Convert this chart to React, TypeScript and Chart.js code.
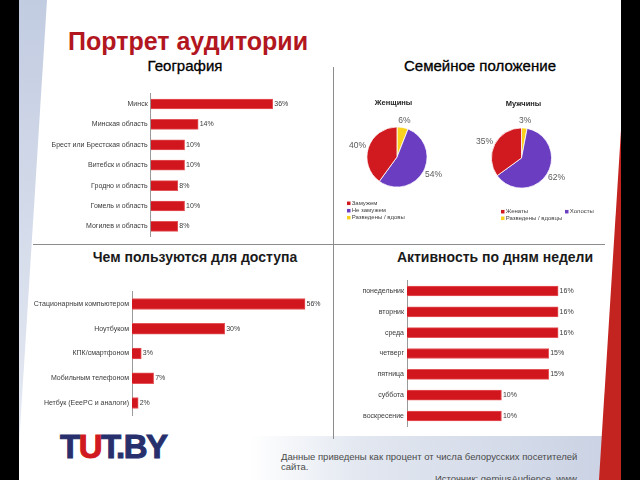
import React, { useEffect, useRef } from "react";
import { Chart, registerables } from "chart.js";
Chart.register(...registerables);

const FONT = "'Liberation Sans', Arial, sans-serif";

// ---- data ----
const geoLabels = ["Минск", "Минская область", "Брест или Брестская область", "Витебск и область", "Гродно и область", "Гомель и область", "Могилев и область"];
const geoValues = [36, 14, 10, 10, 8, 10, 8];

const womenLabels = ["Разведены / вдовы", "Не замужем", "Замужем"];
const womenValues = [6, 54, 40];
const menLabels = ["Разведены / вдовцы", "Холосты", "Женаты"];
const menValues = [3, 62, 35];

const accessLabels = ["Стационарным компьютером", "Ноутбуком", "КПК/смартфоном", "Мобильным телефоном", "Нетбук (EeePC и аналоги)"];
const accessValues = [56, 30, 3, 7, 2];

const dayLabels = ["понедельник", "вторник", "среда", "четверг", "пятница", "суббота", "воскресение"];
const dayValues = [16, 16, 16, 15, 15, 10, 10];

const RED = "#d2161e";
const RED_EDGE = "#e4555a";
const PIE_COLORS = ["#f9d21f", "#6a3dc1", "#d11a20"];

type BarProps = {
  left: number; top: number; width: number; height: number;
  labels: string[]; values: number[]; max: number; axisWidth: number;
  pad: { top: number; bottom: number; right: number }; thickness: number;
};

function BarChart(p: BarProps) {
  const ref = useRef<HTMLCanvasElement>(null);
  useEffect(() => {
    const valueLabels = {
      id: "valueLabels",
      afterDatasetsDraw(chart: any) {
        const ctx = chart.ctx;
        const meta = chart.getDatasetMeta(0);
        ctx.save();
        ctx.font = `7px ${FONT}`;
        ctx.fillStyle = "#3a3a3a";
        ctx.textAlign = "left";
        ctx.textBaseline = "middle";
        meta.data.forEach((bar: any, i: number) => {
          ctx.fillText(p.values[i] + "%", bar.x + 1.5, bar.y);
        });
        ctx.restore();
      },
    };
    const chart = new Chart(ref.current!, {
      type: "bar",
      data: {
        labels: p.labels,
        datasets: [{
          data: p.values,
          backgroundColor: RED,
          borderColor: RED_EDGE,
          borderWidth: 1,
          barThickness: p.thickness,
        }],
      },
      options: {
        indexAxis: "y",
        animation: false,
        responsive: false,
        layout: { padding: { left: 0, top: p.pad.top, bottom: p.pad.bottom, right: p.pad.right } },
        plugins: { legend: { display: false }, tooltip: { enabled: false } },
        scales: {
          x: { display: false, min: 0, max: p.max },
          y: {
            grid: { color: "rgba(0,0,0,0)", drawTicks: false },
            border: { display: true, color: "#9a9a9a", width: 1 },
            ticks: { font: { family: FONT, size: 7 }, color: "#3a3a3a", padding: 3, autoSkip: false },
            afterFit: (s: any) => { s.width = p.axisWidth; },
          },
        },
      },
      plugins: [valueLabels],
    } as any);
    return () => chart.destroy();
  }, []);
  return <canvas ref={ref} width={p.width} height={p.height} style={{ position: "absolute", left: p.left, top: p.top }} />;
}

type LegendItem = { idx: number; x: number; y: number };
type PieProps = {
  left: number; top: number; width: number; height: number;
  labels: string[]; values: number[];
  pad: { left: number; right: number; top: number; bottom: number };
  title: string; titleX: number; titleY: number;
  legend: LegendItem[];
};

function PieChart(p: PieProps) {
  const ref = useRef<HTMLCanvasElement>(null);
  useEffect(() => {
    const decor = {
      id: "pieDecor",
      afterDraw(chart: any) {
        const ctx = chart.ctx;
        ctx.save();
        ctx.textAlign = "center";
        ctx.textBaseline = "middle";
        ctx.font = `bold 7.5px ${FONT}`;
        ctx.fillStyle = "#222";
        ctx.fillText(p.title, p.titleX, p.titleY);
        const meta = chart.getDatasetMeta(0);
        ctx.font = `8.5px ${FONT}`;
        ctx.fillStyle = "#5a5a5a";
        meta.data.forEach((arc: any, i: number) => {
          const a = arc.getProps(["x", "y", "startAngle", "endAngle", "outerRadius"], true);
          const m = (a.startAngle + a.endAngle) / 2;
          const txt = p.values[i] + "%";
          const w = ctx.measureText(txt).width;
          const d = a.outerRadius + 3;
          const cx = a.x + Math.cos(m) * d + Math.cos(m) * w / 2;
          const cy = a.y + Math.sin(m) * d + Math.sin(m) * 4;
          ctx.fillText(txt, cx, cy);
        });
        ctx.font = `6px ${FONT}`;
        ctx.textAlign = "left";
        p.legend.forEach((it) => {
          ctx.fillStyle = PIE_COLORS[it.idx];
          ctx.fillRect(it.x, it.y - 1.75, 3.5, 3.5);
          ctx.fillStyle = "#404040";
          ctx.fillText(p.labels[it.idx], it.x + 4.7, it.y);
        });
        ctx.restore();
      },
    };
    const chart = new Chart(ref.current!, {
      type: "pie",
      data: {
        labels: p.labels,
        datasets: [{ data: p.values, backgroundColor: PIE_COLORS, borderColor: "#ffffff", borderWidth: 0.8 }],
      },
      options: {
        animation: false,
        responsive: false,
        layout: { padding: p.pad },
        plugins: { legend: { display: false }, tooltip: { enabled: false } },
      },
      plugins: [decor],
    } as any);
    return () => chart.destroy();
  }, []);
  return <canvas ref={ref} width={p.width} height={p.height} style={{ position: "absolute", left: p.left, top: p.top }} />;
}

const abs = (s: React.CSSProperties): React.CSSProperties => ({ position: "absolute", ...s });

export default function App() {
  return (
    <div style={{ position: "fixed", left: 0, top: 0, width: 640, height: 480, overflow: "hidden", background: "#fff", fontFamily: FONT }}>
      {/* decorative background */}
      <div style={abs({ left: 19, top: 0, width: 28, height: 445, background: "linear-gradient(to bottom, #c2cce1, #e6eaf3)", clipPath: "polygon(0 0, 100% 0, 0 100%)" })} />
      <div style={abs({ left: 250, top: 436, width: 372, height: 44, background: "linear-gradient(to right, #ffffff 0%, #e2e7f0 30%, #c9d1e3 100%)" })} />
      <div style={abs({ left: 599, top: 130, width: 22, height: 350, background: "#c42420", clipPath: "polygon(100% 0, 100% 100%, 0 100%)" })} />
      <div style={abs({ left: 0, top: 0, width: 19, height: 480, background: "#000" })} />
      <div style={abs({ left: 621, top: 0, width: 19, height: 480, background: "#000" })} />

      {/* dividers */}
      <div style={abs({ left: 333, top: 67, width: 1, height: 372, background: "#8c8c8c" })} />
      <div style={abs({ left: 33, top: 244, width: 572, height: 1, background: "#8c8c8c" })} />

      {/* titles */}
      <div style={abs({ left: 68, top: 29, fontSize: 25, lineHeight: "25px", fontWeight: "bold", color: "#b2161e", whiteSpace: "nowrap" })}>Портрет аудитории</div>
      <div style={abs({ left: 105, top: 58, width: 160, textAlign: "center", fontSize: 15, lineHeight: "15px", color: "#000", WebkitTextStroke: "0.3px #000" } as any)}>География</div>
      <div style={abs({ left: 380, top: 58, width: 200, textAlign: "center", fontSize: 15, lineHeight: "15px", color: "#000", WebkitTextStroke: "0.3px #000" } as any)}>Семейное положение</div>
      <div style={abs({ left: 60, top: 250, width: 270, textAlign: "center", fontSize: 14, lineHeight: "14px", fontWeight: "bold", color: "#1a1a1a", whiteSpace: "nowrap" })}>Чем пользуются для доступа</div>
      <div style={abs({ left: 360, top: 250, width: 270, textAlign: "center", fontSize: 14, lineHeight: "14px", fontWeight: "bold", color: "#1a1a1a", whiteSpace: "nowrap" })}>Активность по дням недели</div>

      {/* charts */}
      <BarChart left={40} top={85} width={270} height={160} labels={geoLabels} values={geoValues} max={40} axisWidth={110.7}
        pad={{ top: 8.8, bottom: 8.4, right: 23.7 }} thickness={10} />
      <PieChart left={340} top={95} width={110} height={135} labels={womenLabels} values={womenValues}
        pad={{ left: 26.5, right: 22.5, top: 31.5, bottom: 42.5 }} title="Женщины" titleX={53.5} titleY={8}
        legend={[{ idx: 2, x: 7, y: 108.3 }, { idx: 1, x: 7, y: 115.7 }, { idx: 0, x: 7, y: 122.7 }]} />
      <PieChart left={460} top={95} width={150} height={135} labels={menLabels} values={menValues}
        pad={{ left: 31, right: 58, top: 32.5, bottom: 41.5 }} title="Мужчины" titleX={63.5} titleY={9}
        legend={[{ idx: 2, x: 41, y: 116.7 }, { idx: 1, x: 105, y: 116.7 }, { idx: 0, x: 41, y: 123.3 }]} />
      <BarChart left={20} top={280} width={315} height={145} labels={accessLabels} values={accessValues} max={60} axisWidth={112}
        pad={{ top: 11.6, bottom: 9.6, right: 17.6 }} thickness={11} />
      <BarChart left={330} top={270} width={290} height={165} labels={dayLabels} values={dayValues} max={18} axisWidth={77}
        pad={{ top: 10.6, bottom: 8.6, right: 43 }} thickness={10} />

      {/* logo */}
      <div style={abs({ left: 60, top: 429.5, fontSize: 33, lineHeight: "33px", fontWeight: "bold", color: "#27306c", letterSpacing: "-1.5px", whiteSpace: "nowrap", WebkitTextStroke: "1px #27306c" } as any)}>
        T<span style={{ color: "#d11a20", WebkitTextStroke: "1px #d11a20" } as any}>U</span>T.BY
      </div>

      {/* footer */}
      <div style={abs({ left: 281, top: 452, width: 320, fontSize: 9.5, lineHeight: "10px", color: "#4a4a4a" })}>
        Данные приведены как процент от числа белорусских посетителей сайта.
      </div>
      <div style={abs({ left: 435, top: 474, fontSize: 9.5, lineHeight: "10px", color: "#4a4a4a", whiteSpace: "nowrap" })}>
        Источник: gemiusAudience, www
      </div>
    </div>
  );
}
